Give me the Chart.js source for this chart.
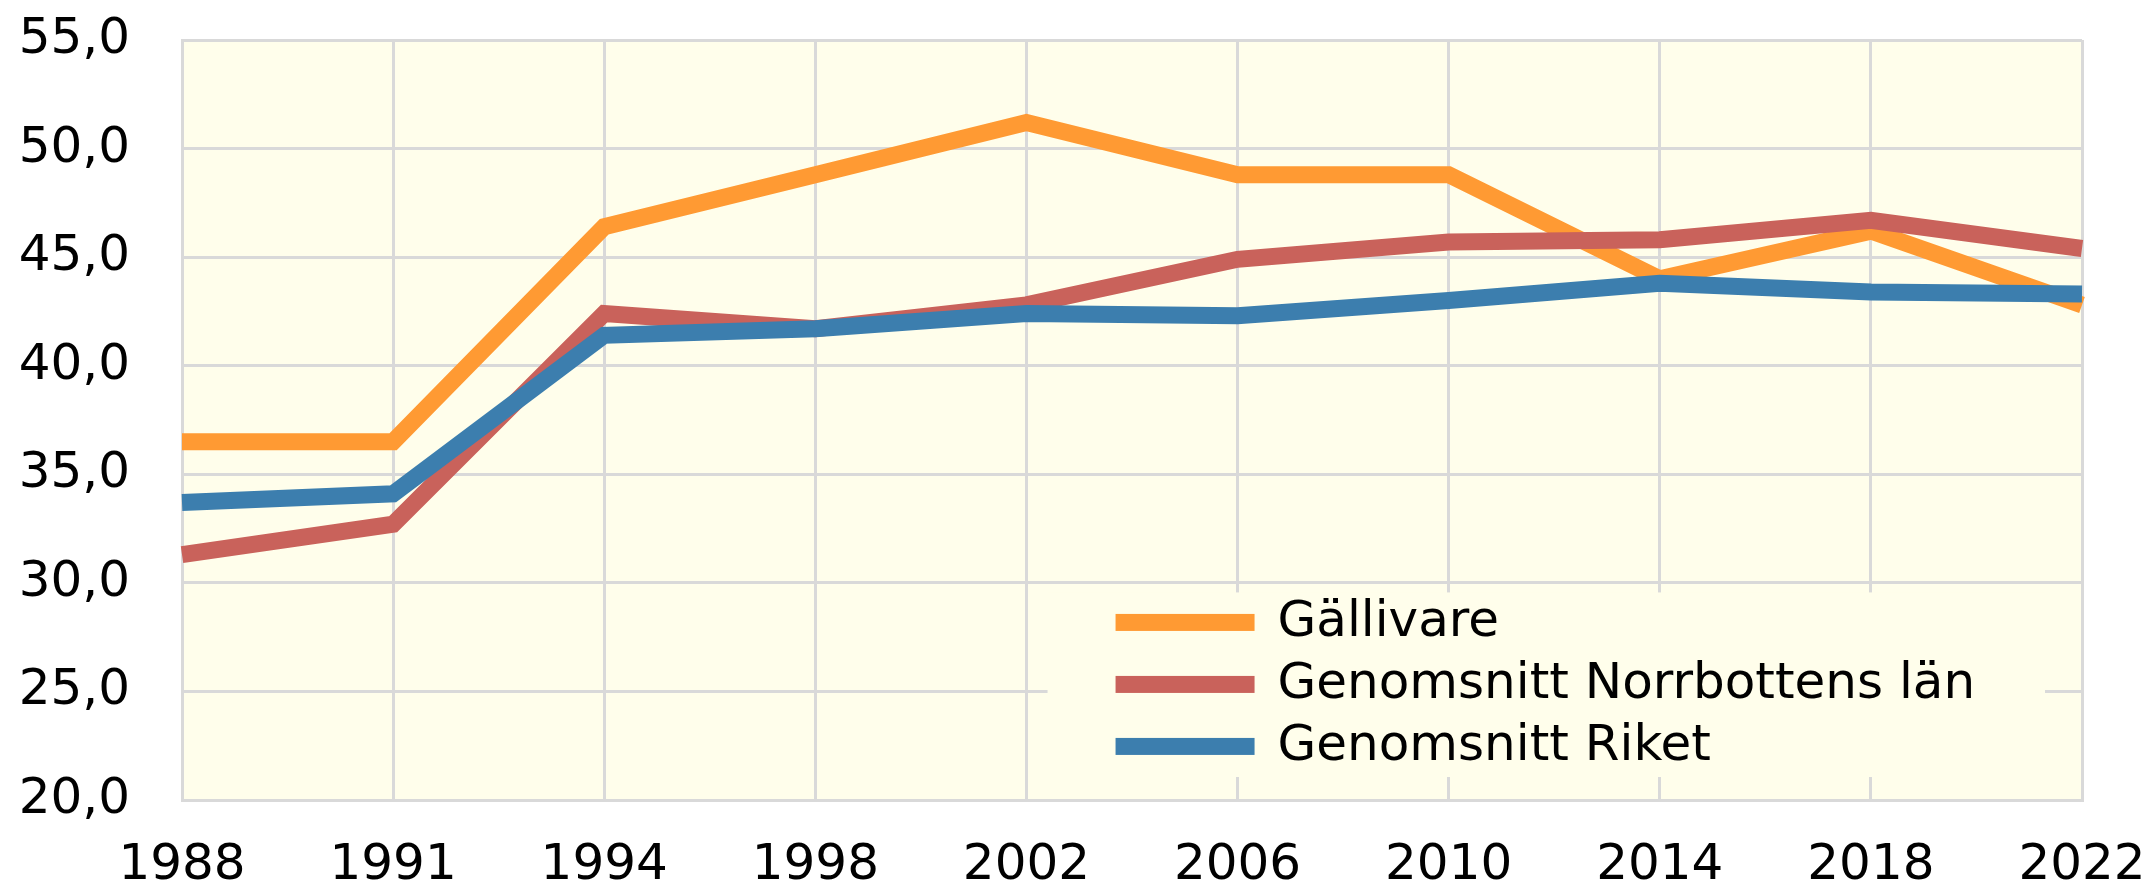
<!DOCTYPE html>
<html>
<head>
<meta charset="utf-8">
<script src="https://cdn.jsdelivr.net/npm/chart.js@4/dist/chart.umd.min.js"></script>
<style>
  html, body { margin: 0; padding: 0; background: #ffffff; }
  #wrap { width: 2154px; height: 889px; position: relative; }
</style>
</head>
<body>
<div id="wrap"><canvas id="c" width="2154" height="889"></canvas></div>
<script>
const years = ["1988", "1991", "1994", "1998", "2002", "2006", "2010", "2014", "2018", "2022"];
const seriesNames = ["Gällivare", "Genomsnitt Norrbottens län", "Genomsnitt Riket"];
const gallivare = [36.5, 36.5, 46.4, 48.8, 51.2, 48.8, 48.8, 44.0, 46.2, 42.8];
const norrbotten = [31.3, 32.7, 42.4, 41.7, 42.8, 44.9, 45.7, 45.8, 46.7, 45.4];
const riket = [33.7, 34.1, 41.4, 41.7, 42.4, 42.3, 43.0, 43.8, 43.4, 43.3];
const yTicks = [20, 25, 30, 35, 40, 45, 50, 55];

const colors = ["#FF9A33", "#C9625B", "#3C7EAE"];
const plotBg = "#FFFEEB";
const gridColor = "#D9D9D9";
const FONT = "'DejaVu Sans', Verdana, sans-serif";

const bgPlugin = {
  id: 'plotBg',
  beforeDraw(chart) {
    const a = chart.chartArea, ctx = chart.ctx;
    ctx.save();
    ctx.fillStyle = plotBg;
    ctx.fillRect(a.left, a.top, a.right - a.left, a.bottom - a.top);
    ctx.restore();
  }
};

const legendPlugin = {
  id: 'innerLegend',
  beforeDatasetsDraw(chart) {
    const ctx = chart.ctx;
    const xs = chart.scales.x, ys = chart.scales.y;
    const left = xs.getPixelForValue(5) - 190;
    const right = xs.getPixelForValue(9) - 37;
    const top = ys.getPixelForValue(25) - 99;
    const bottom = ys.getPixelForValue(20) - 23;
    ctx.save();
    ctx.fillStyle = plotBg;
    ctx.fillRect(left, top, right - left, bottom - top);
    ctx.font = "50px " + FONT;
    ctx.textBaseline = "middle";
    ctx.textAlign = "left";
    const rowY0 = top + 30, rowStep = 62;
    chart.data.datasets.forEach((ds, i) => {
      const y = rowY0 + i * rowStep;
      ctx.fillStyle = ds.borderColor;
      ctx.fillRect(left + 68, y - 8.5, 139, 17);
      ctx.fillStyle = "#000000";
      ctx.fillText(ds.label, left + 230, y + 1);
    });
    ctx.restore();
  }
};

const ctx = document.getElementById('c').getContext('2d');
new Chart(ctx, {
  type: 'line',
  data: {
    labels: years,
    datasets: [
      { label: seriesNames[0], data: gallivare, borderColor: colors[0], backgroundColor: colors[0], order: 3 },
      { label: seriesNames[1], data: norrbotten, borderColor: colors[1], backgroundColor: colors[1], order: 2 },
      { label: seriesNames[2], data: riket, borderColor: colors[2], backgroundColor: colors[2], order: 1 }
    ]
  },
  options: {
    responsive: false,
    animation: false,
    devicePixelRatio: 1,
    layout: { autoPadding: false, padding: { top: 40, right: 72, bottom: 0, left: 0 } },
    elements: {
      line: { borderWidth: 17, tension: 0, borderJoinStyle: 'miter', borderCapStyle: 'butt' },
      point: { radius: 0, hoverRadius: 0 }
    },
    plugins: {
      legend: { display: false },
      tooltip: { enabled: false }
    },
    scales: {
      x: {
        offset: false,
        grid: { color: gridColor, lineWidth: 3, drawTicks: false },
        border: { display: true, color: gridColor, width: 3 },
        ticks: {
          color: "#000000",
          font: { family: FONT, size: 50, lineHeight: 1.2 },
          padding: 36,
          maxRotation: 0,
          autoSkip: false
        },
        afterFit(scale) {
          scale.height = 89;
          scale.paddingLeft = 0; scale.paddingRight = 0;
          scale.paddingTop = 0; scale.paddingBottom = 0;
        }
      },
      y: {
        min: 20,
        max: 55,
        afterBuildTicks(scale) { scale.ticks = yTicks.map(v => ({ value: v })); },
        grid: { color: gridColor, lineWidth: 3, drawTicks: false },
        border: { display: true, color: gridColor, width: 3 },
        ticks: {
          color: "#000000",
          font: { family: FONT, size: 50, lineHeight: 1.2 },
          padding: 52,
          callback: (v) => v.toFixed(1).replace('.', ',')
        },
        afterFit(scale) {
          scale.width = 182;
          scale.paddingLeft = 0; scale.paddingRight = 0;
          scale.paddingTop = 0; scale.paddingBottom = 0;
        }
      }
    }
  },
  plugins: [bgPlugin, legendPlugin]
});
</script>
</body>
</html>
